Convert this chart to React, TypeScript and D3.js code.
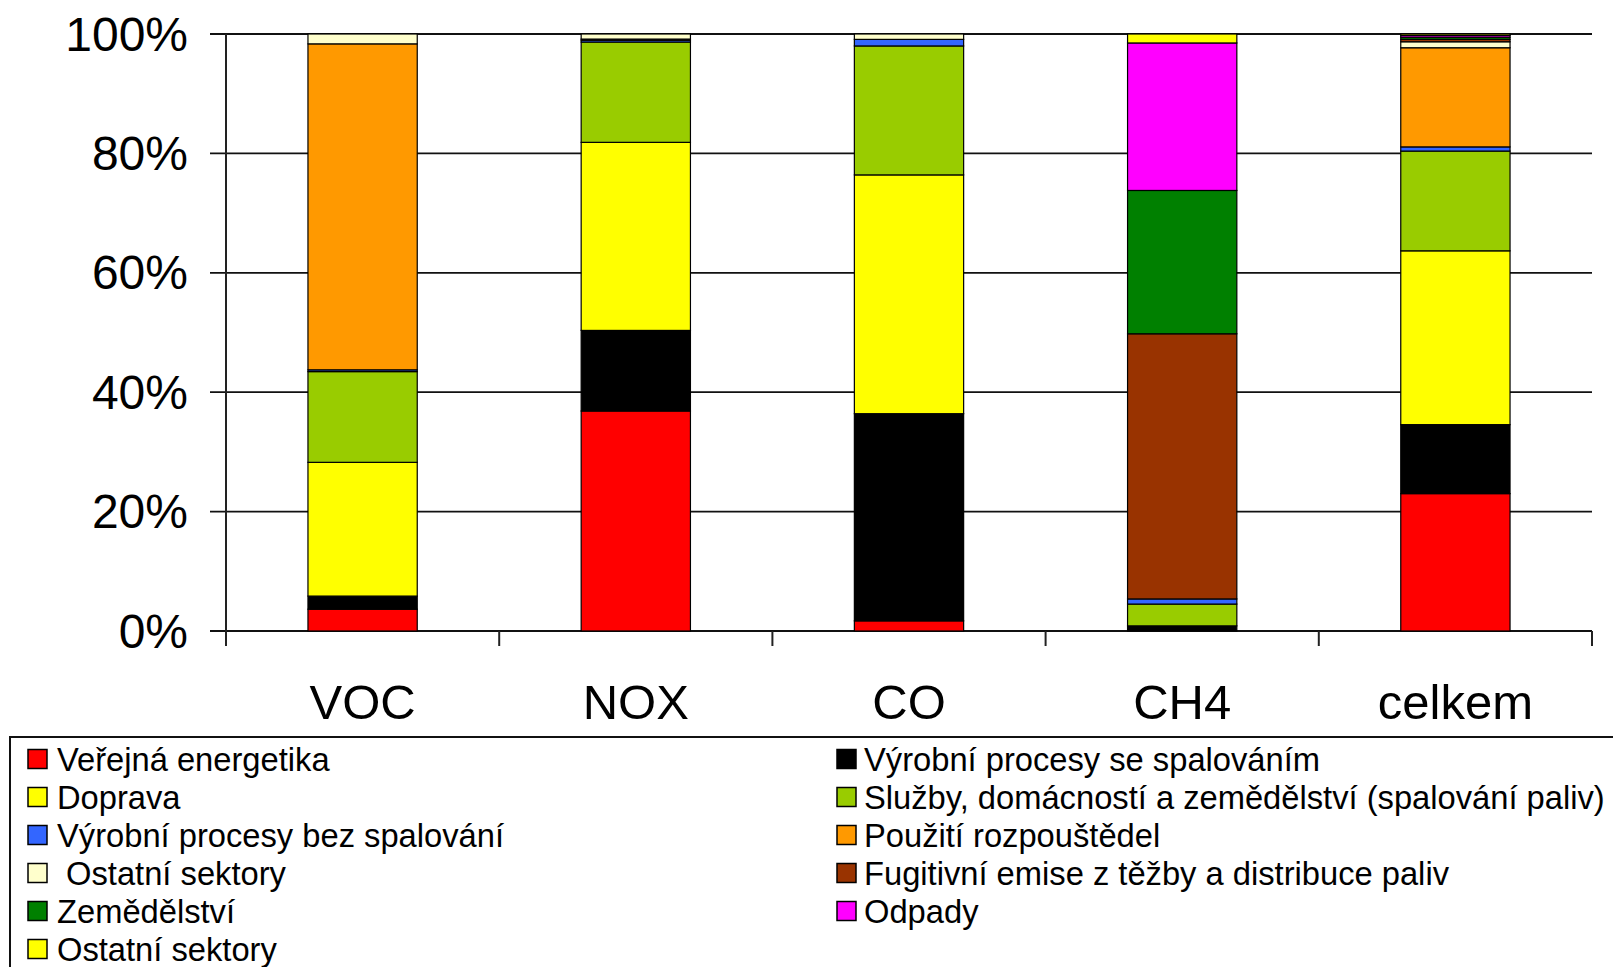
import React from "react";
import * as d3 from "d3";

const categories = ["VOC", "NOX", "CO", "CH4", "celkem"];

const seriesNames = [
  "Veřejná energetika",
  "Výrobní procesy se spalováním",
  "Doprava",
  "Služby, domácností a zemědělství (spalování paliv)",
  "Výrobní procesy bez spalování",
  "Použití rozpouštědel",
  " Ostatní sektory",
  "Fugitivní emise z těžby a distribuce paliv",
  "Zemědělství",
  "Odpady",
  "Ostatní sektory",
];

const seriesColors = [
  "#FF0000", "#000000", "#FFFF00", "#99CC00", "#3366FF", "#FF9900",
  "#FFFFCC", "#993300", "#008000", "#FF00FF", "#FFFF00",
];

const verejnaEnergetika = [3.65, 36.85, 1.7, 0, 23.0];
const vyrobniSeSpalovanim = [2.2, 13.5, 34.7, 0.86, 11.55];
const doprava = [22.4, 31.5, 40.0, 0, 29.1];
const sluzby = [15.2, 16.8, 21.6, 3.65, 16.7];
const vyrobniBezSpalovani = [0.3, 0.3, 1.1, 0.86, 0.7];
const pouzitiRozpoustedel = [54.6, 0.2, 0, 0, 16.6];
const ostatniSektory1 = [1.65, 0.85, 0.9, 0, 1.0];
const fugitivniEmise = [0, 0, 0, 44.4, 0.4];
const zemedelstvi = [0, 0, 0, 24.0, 0.35];
const odpady = [0, 0, 0, 24.7, 0.3];
const ostatniSektory2 = [0, 0, 0, 1.5, 0.25];

const yTicks = [0, 0.2, 0.4, 0.6, 0.8, 1];

const allSeries = [
  verejnaEnergetika, vyrobniSeSpalovanim, doprava, sluzby, vyrobniBezSpalovani,
  pouzitiRozpoustedel, ostatniSektory1, fugitivniEmise, zemedelstvi, odpady, ostatniSektory2,
];

export default function App() {
  const W = 1613, H = 967;
  const left = 226, right = 1592, top = 34, bottom = 631;
  const keys = allSeries.map((_, i) => "s" + i);
  const table = categories.map((c, ci) => {
    const row: any = { cat: c };
    allSeries.forEach((s, si) => (row["s" + si] = s[ci]));
    return row;
  });
  const stacked = d3.stack().keys(keys).offset(d3.stackOffsetExpand)(table);
  const xBand = d3.scaleBand().domain(categories).range([left, right]).padding(0);
  const xBar = d3.scaleBand().domain(categories).range([left, right]).paddingInner(0.6).paddingOuter(0.3);
  const y = d3.scaleLinear().domain([0, 1]).range([bottom, top]);
  const font = "'Liberation Sans', Arial, sans-serif";

  const leftItems = [0, 2, 4, 6, 8, 10];
  const rightItems = [1, 3, 5, 7, 9];
  const rowY = (r: number) => 759 + r * 38;

  return (
    <svg width={W} height={H} style={{ position: "absolute", left: 0, top: 0, background: "#fff" }} fontFamily={font}>
      {yTicks.map((t) => (
        <line key={"g" + t} x1={210} x2={right} y1={y(t)} y2={y(t)} stroke="#111" strokeWidth={1.8} />
      ))}
      <line x1={left} x2={left} y1={top} y2={646} stroke="#222" strokeWidth={2} />
      {categories.map((c) => (
        <line key={"xt" + c} x1={(xBand(c) as number) + xBand.bandwidth()} x2={(xBand(c) as number) + xBand.bandwidth()} y1={bottom} y2={646} stroke="#222" strokeWidth={2} />
      ))}
      {stacked.map((layer, si) =>
        layer.map((d, ci) => {
          if (allSeries[si][ci] <= 0) return null;
          const x = xBar(categories[ci]) as number;
          return (
            <rect
              key={si + "-" + ci}
              x={x}
              y={y(d[1])}
              width={xBar.bandwidth()}
              height={y(d[0]) - y(d[1])}
              fill={seriesColors[si]}
              stroke="#000"
              strokeWidth={1.2}
            />
          );
        })
      )}
      {yTicks.map((t) => (
        <text key={"yl" + t} x={188} y={y(t)} textAnchor="end" dominantBaseline="central" fontSize={48} fill="#000">
          {d3.format(".0%")(t)}
        </text>
      ))}
      {categories.map((c) => (
        <text key={"xl" + c} x={(xBand(c) as number) + xBand.bandwidth() / 2} y={719} textAnchor="middle" fontSize={49} fill="#000">
          {c}
        </text>
      ))}
      <rect x={10} y={737} width={1640} height={300} fill="#fff" stroke="#111" strokeWidth={2} />
      {leftItems.map((si, r) => (
        <g key={"ll" + si}>
          <rect x={28} y={rowY(r) - 9.5} width={19} height={19} fill={seriesColors[si]} stroke="#000" strokeWidth={1.5} />
          <text x={57} y={rowY(r)} dominantBaseline="central" fontSize={32.7} fill="#000" style={{ whiteSpace: "pre" }}>
            {seriesNames[si]}
          </text>
        </g>
      ))}
      {rightItems.map((si, r) => (
        <g key={"rl" + si}>
          <rect x={837} y={rowY(r) - 9.5} width={19} height={19} fill={seriesColors[si]} stroke="#000" strokeWidth={1.5} />
          <text x={864} y={rowY(r)} dominantBaseline="central" fontSize={32.7} fill="#000" style={{ whiteSpace: "pre" }}>
            {seriesNames[si]}
          </text>
        </g>
      ))}
    </svg>
  );
}
